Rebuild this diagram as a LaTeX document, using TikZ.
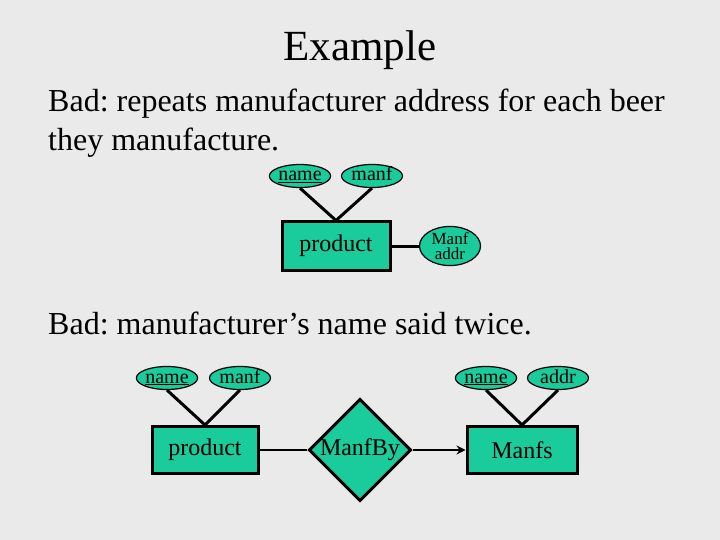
\documentclass[tikz,border=0pt]{standalone}
\usepackage{fontspec}
\setmainfont{Liberation Serif}
\usetikzlibrary{shapes.geometric,arrows.meta}
\definecolor{bg}{HTML}{EAEAEA}
\definecolor{teal}{HTML}{1ACB9C}
\frenchspacing
\begin{document}
\begin{tikzpicture}[x=1pt,y=-1pt,
  attr/.style={ellipse,draw=black,line width=1.2pt,fill=teal,inner sep=0pt,minimum width=61pt,minimum height=23pt,text height=13pt,text depth=3pt,font=\fontsize{20}{20}\selectfont},
  ent/.style={rectangle,draw=black,line width=3pt,fill=teal,inner sep=0pt,minimum width=106pt,minimum height=47pt,font=\fontsize{24}{24}\selectfont},
  rel/.style={diamond,draw=black,line width=3pt,fill=teal,inner sep=0pt,minimum width=96pt,minimum height=98pt,font=\fontsize{24}{24}\selectfont},
  conn/.style={line width=3pt},
  body/.style={anchor=base west,inner sep=0pt,font=\fontsize{32}{32}\selectfont}]
\fill[bg] (0,0) rectangle (720,540);
\useasboundingbox (0,0) rectangle (720,540);
\node[anchor=base,inner sep=0pt,font=\fontsize{43}{43}\selectfont] (title) at (360,61) {Example};
\node[body] (t1) at (48,112) {Bad: repeats manufacturer address for each beer};
\node[body] (t2) at (48,151) {they manufacture.};
\node[body] (t3) at (48,334) {Bad: manufacturer’s name said twice.};
% top diagram
\node[ent,minimum width=108pt,minimum height=48pt] (p1) at (336,246) {product};
\node[attr] (n1) at (300,176) {\underline{name}};
\node[attr] (m1) at (372,176) {manf};
\node[ellipse,draw=black,line width=1.2pt,fill=teal,inner sep=0pt,minimum width=61pt,minimum height=32pt,align=center,font=\fontsize{17}{15.5}\selectfont] (a1) at (450,246) {Manf\\addr};
\draw[conn] (n1.south) -- (p1.north);
\draw[conn] (m1.south) -- (p1.north);
\draw[conn] (p1.east) -- (a1.west);
% bottom diagram
\node[ent] (p2) at (205,450) {product};
\node[attr] (n2) at (167,378) {\underline{name}};
\node[attr] (m2) at (240,378) {manf};
\node[rel] (r) at (360,450) {ManfBy};
\node[ent,minimum width=110pt] (e) at (522,450) {Manfs};
\node[attr] (n3) at (486,378) {\underline{name}};
\node[attr] (a3) at (558,378) {addr};
\draw[conn] (n2.south) -- (p2.north);
\draw[conn] (m2.south) -- (p2.north);
\draw[conn] (n3.south) -- (e.north);
\draw[conn] (a3.south) -- (e.north);
\draw[line width=2pt] (p2.east) -- (r.west);
\draw[line width=2pt,-{Stealth[length=9pt,width=9pt]}] (r.east) -- (e.west);
\end{tikzpicture}
\end{document}
